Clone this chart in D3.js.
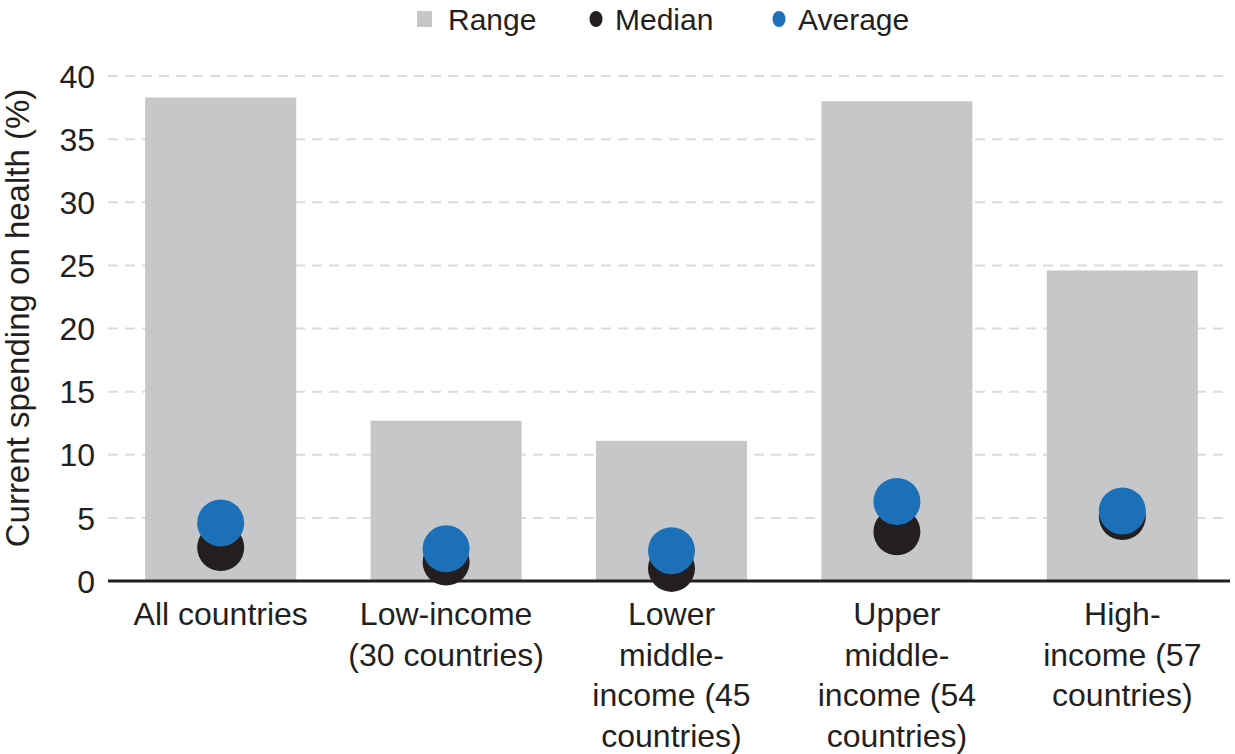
<!DOCTYPE html>
<html>
<head>
<meta charset="utf-8">
<script src="https://cdn.jsdelivr.net/npm/d3@7"></script>
<style>
  body { margin: 0; background: #fff; }
  text { font-family: "Liberation Sans", Arial, Helvetica, sans-serif; fill: #231f20; }
</style>
</head>
<body>
<div id="chart"></div>
<script>
// data
var categories = ["all", "low", "lowmid", "upmid", "high"]
var category_lines = [
  ["All countries"],
  ["Low-income", "(30 countries)"],
  ["Lower", "middle-", "income (45", "countries)"],
  ["Upper", "middle-", "income (54", "countries)"],
  ["High-", "income (57", "countries)"]
]
var range_max = [38.3, 12.7, 11.1, 38.0, 24.6]
var median_values = [2.65, 1.5, 1.0, 3.9, 5.1]
var average_values = [4.6, 2.55, 2.4, 6.3, 5.55]
var y_ticks = [0, 5, 10, 15, 20, 25, 30, 35, 40]
var legend_items = [
  {label: "Range", shape: "rect", color: "#c6c7c9"},
  {label: "Median", shape: "circle", color: "#231f20"},
  {label: "Average", shape: "circle", color: "#1c70b8"}
]

var width = 1235,
    height = 754

var margin = {top: 76, right: 0, bottom: 173, left: 108}

var svg = d3.select("#chart")
  .append("svg")
  .attr("width", width)
  .attr("height", height)

var x = d3.scaleBand()
  .domain(categories)
  .range([margin.left, width - margin.right])
  .paddingInner(0.33)
  .paddingOuter(0.165)

var y = d3.scaleLinear()
  .domain([0, 40])
  .range([height - margin.bottom, margin.top])

// gridlines
svg.append("g")
  .selectAll("line")
  .data(y_ticks.filter(function(d){return d > 0}))
  .enter()
  .append("line")
  .attr("x1", margin.left)
  .attr("x2", width - 5)
  .attr("y1", function(d){return y(d)})
  .attr("y2", function(d){return y(d)})
  .attr("stroke", "#dcdcdc")
  .attr("stroke-width", 2)
  .attr("stroke-dasharray", "10,7")

// y tick labels
var yAxis = svg.append("g")
  .attr("transform", "translate(" + margin.left + ",0)")
  .call(d3.axisLeft(y).tickValues(y_ticks).tickSize(0).tickPadding(13))
yAxis.select(".domain").remove()
yAxis.selectAll("text")
  .style("font-size", "32px")
  .attr("fill", "#231f20")
  .attr("dy", "0.35em")

// y title
svg.append("text")
  .attr("transform", "translate(29,318) rotate(-90)")
  .attr("text-anchor", "middle")
  .style("font-size", "33px")
  .text("Current spending on health (%)")

// range bars
svg.append("g")
  .selectAll("rect")
  .data(range_max)
  .enter()
  .append("rect")
  .attr("x", function(d, i){return x(categories[i])})
  .attr("width", x.bandwidth())
  .attr("y", function(d){return y(d)})
  .attr("height", function(d){return y(0) - y(d)})
  .attr("fill", "#c6c7c9")

// baseline
svg.append("line")
  .attr("x1", margin.left)
  .attr("x2", width - 5)
  .attr("y1", y(0))
  .attr("y2", y(0))
  .attr("stroke", "#231f20")
  .attr("stroke-width", 3)

var dot_radius = 23.5

// median dots
svg.append("g")
  .selectAll("circle")
  .data(median_values)
  .enter()
  .append("circle")
  .attr("cx", function(d, i){return x(categories[i]) + x.bandwidth() / 2})
  .attr("cy", function(d){return y(d)})
  .attr("r", dot_radius)
  .attr("fill", "#231f20")

// average dots
svg.append("g")
  .selectAll("circle")
  .data(average_values)
  .enter()
  .append("circle")
  .attr("cx", function(d, i){return x(categories[i]) + x.bandwidth() / 2})
  .attr("cy", function(d){return y(d)})
  .attr("r", dot_radius)
  .attr("fill", "#1c70b8")

// x labels
var xlab = svg.append("g")
  .selectAll("text")
  .data(category_lines)
  .enter()
  .append("text")
  .attr("text-anchor", "middle")
  .attr("x", function(d, i){return x(categories[i]) + x.bandwidth() / 2})
  .attr("y", 625)
  .style("font-size", "32px")

xlab.selectAll("tspan")
  .data(function(d){return d})
  .enter()
  .append("tspan")
  .attr("x", function(){return d3.select(this.parentNode).attr("x")})
  .attr("dy", function(d, i){return i == 0 ? 0 : 40.5})
  .text(function(d){return d})

// legend
var legend_x = [417, 589, 772]
var legend = svg.append("g")
  .selectAll("g")
  .data(legend_items)
  .enter()
  .append("g")
  .attr("transform", function(d, i){return "translate(" + legend_x[i] + ",19)"})

legend.filter(function(d){return d.shape == "rect"})
  .append("rect")
  .attr("x", 0)
  .attr("y", -8)
  .attr("width", 15)
  .attr("height", 16)
  .attr("fill", function(d){return d.color})

legend.filter(function(d){return d.shape == "circle"})
  .append("ellipse")
  .attr("cx", 7)
  .attr("cy", 0)
  .attr("rx", 6.5)
  .attr("ry", 8)
  .attr("fill", function(d){return d.color})

legend.append("text")
  .attr("x", function(d){return d.shape == "rect" ? 31 : 26})
  .attr("y", 11)
  .style("font-size", "30px")
  .text(function(d){return d.label})
</script>
</body>
</html>
